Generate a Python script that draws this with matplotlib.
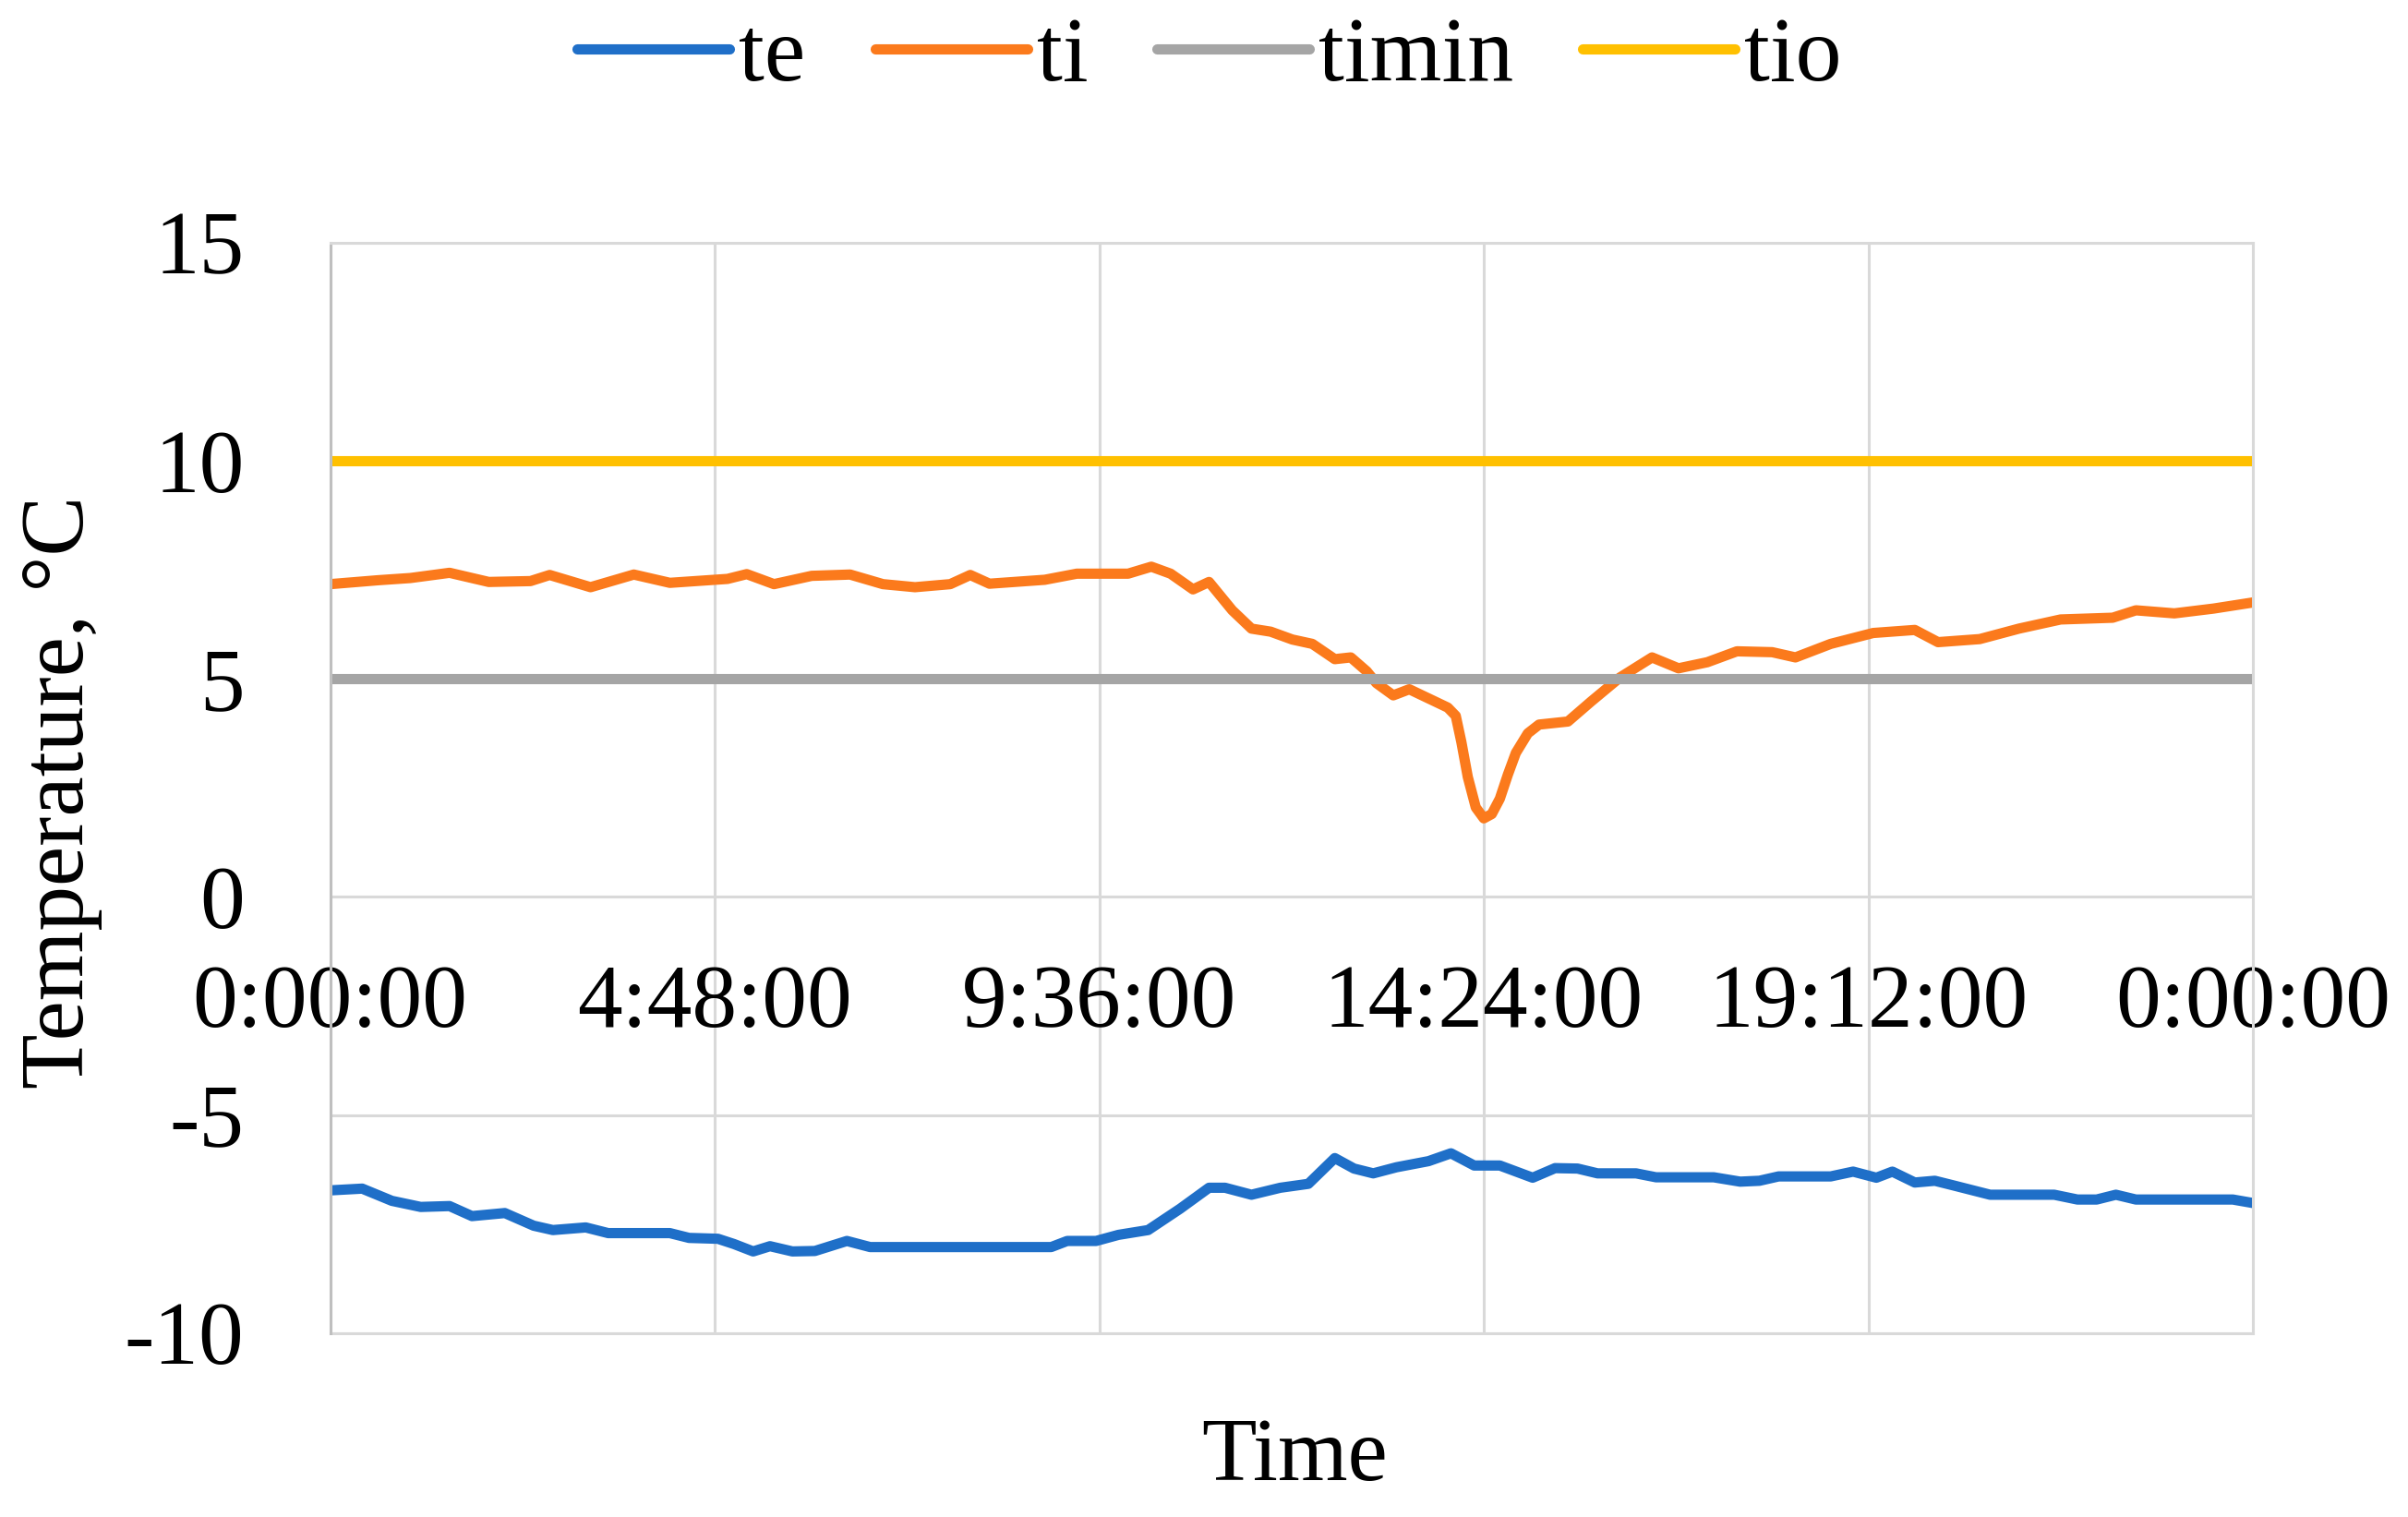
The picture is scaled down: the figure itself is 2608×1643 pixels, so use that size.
import matplotlib
matplotlib.use("Agg")
import matplotlib.pyplot as plt

plt.rcParams['font.family'] = ['Liberation Serif', 'DejaVu Serif']
plt.rcParams['axes.unicode_minus'] = False

# time in hours, temperatures in deg C
te_hours = [0, 0.4, 0.77, 1.13, 1.49, 1.77, 2.18, 2.54, 2.78, 3.19, 3.47, 4.24, 4.48, 4.84,
            5.04, 5.28, 5.49, 5.77, 6.05, 6.45, 6.74, 9.0, 9.2, 9.56, 9.84, 10.21, 10.61,
            10.97, 11.17, 11.5, 11.86, 12.21, 12.54, 12.78, 13.02, 13.31, 13.71, 13.99,
            14.28, 14.6, 15.01, 15.29, 15.57, 15.82, 16.3, 16.55, 17.27, 17.6, 17.84, 18.08,
            18.73, 19.01, 19.3, 19.5, 19.78, 20.03, 20.27, 20.72, 21.52, 21.81, 22.05, 22.29,
            22.54, 23.75, 24.0]
te = [-6.73, -6.69, -6.97, -7.11, -7.09, -7.32, -7.25, -7.54, -7.64, -7.58, -7.71, -7.71,
      -7.82, -7.84, -7.96, -8.13, -8.01, -8.13, -8.12, -7.89, -8.03, -8.03, -7.89, -7.89,
      -7.75, -7.64, -7.15, -6.67, -6.67, -6.83, -6.67, -6.58, -5.99, -6.23, -6.34, -6.20,
      -6.06, -5.88, -6.16, -6.16, -6.44, -6.22, -6.23, -6.34, -6.34, -6.43, -6.43, -6.53,
      -6.51, -6.41, -6.41, -6.30, -6.44, -6.30, -6.55, -6.51, -6.62, -6.83, -6.83, -6.94,
      -6.94, -6.83, -6.94, -6.94, -7.02]

ti_hours = [0, 0.6, 1.0, 1.49, 1.98, 2.5, 2.74, 3.25, 3.79, 4.24, 4.96, 5.2, 5.54, 6.01,
            6.49, 6.9, 7.3, 7.74, 7.99, 8.23, 8.92, 9.32, 9.96, 10.25, 10.49, 10.77, 10.97,
            11.26, 11.5, 11.74, 12.01, 12.26, 12.54, 12.74, 12.94, 13.06, 13.27, 13.47,
            13.71, 13.95, 14.05, 14.12, 14.2, 14.3, 14.4, 14.5, 14.6, 14.7, 14.8, 14.95,
            15.09, 15.45, 15.74, 16.1, 16.5, 16.83, 17.19, 17.56, 18.0, 18.29, 18.73, 19.26,
            19.78, 20.07, 20.59, 21.08, 21.6, 22.25, 22.54, 23.02, 23.51, 24.0]
ti = [7.17, 7.26, 7.31, 7.43, 7.22, 7.24, 7.38, 7.10, 7.39, 7.20, 7.29, 7.40, 7.17, 7.36,
      7.39, 7.17, 7.10, 7.17, 7.38, 7.18, 7.27, 7.41, 7.41, 7.57, 7.41, 7.05, 7.22, 6.57,
      6.15, 6.08, 5.90, 5.80, 5.45, 5.49, 5.17, 4.90, 4.62, 4.76, 4.55, 4.34, 4.15, 3.55,
      2.75, 2.05, 1.80, 1.90, 2.25, 2.80, 3.30, 3.75, 3.95, 4.02, 4.48, 5.03, 5.49, 5.24,
      5.38, 5.63, 5.61, 5.49, 5.80, 6.05, 6.12, 5.84, 5.91, 6.15, 6.36, 6.40, 6.57, 6.50,
      6.61, 6.75]

limit_hours = [0, 24]
timin = [5, 5]
tio = [10, 10]

x_ticks = [0, 4.8, 9.6, 14.4, 19.2, 24]
x_labels = ['0:00:00', '4:48:00', '9:36:00', '14:24:00', '19:12:00', '0:00:00']
y_ticks = [-10, -5, 0, 5, 10, 15]

W, H = 2608, 1643
fig = plt.figure(figsize=(W / 100, H / 100), dpi=100)
ax = fig.add_axes([357.6 / W, 1 - 1443.7 / H, (2440 - 357.6) / W, (1443.7 - 262.8) / H])

lw = 8
style = dict(lw=lw, solid_capstyle='round', solid_joinstyle='round')
l1, = ax.plot(te_hours, te, color='#1F6FC8', label='te', **style)
l2, = ax.plot(ti_hours, ti, color='#FB7A1C', label='ti', **style)
l3, = ax.plot(limit_hours, timin, color='#A5A5A5', label='timin', **style)
l4, = ax.plot(limit_hours, tio, color='#FFC000', label='tio', **style)

ax.set_xlim(0, 24)
ax.set_ylim(-10, 15)
ax.set_xticks(x_ticks)
ax.set_xticklabels(x_labels)
ax.set_yticks(y_ticks)
ax.grid(True, color='#D9D9D9', lw=2.2)
ax.set_axisbelow(True)

for s in ['top', 'right', 'left']:
    ax.spines[s].set_color('#D9D9D9')
    ax.spines[s].set_linewidth(2.2)
ax.spines['left'].set_color('#BFBFBF')
ax.spines['bottom'].set_position(('data', 0))
ax.spines['bottom'].set_visible(False)
# -10 border line
ax.axhline(-10, color='#D9D9D9', lw=2.2, clip_on=False, zorder=0.5)

ax.tick_params(axis='both', length=0, labelsize=70)
ax.tick_params(axis='x', pad=53)
ax.tick_params(axis='y', pad=67)

fig.text(67 / W, 1 - 858 / H, 'Temperature, °C', rotation=90, ha='center', va='center', fontsize=70)
fig.text(1402 / W, 1 - 1580 / H, 'Time', ha='center', va='center', fontsize=70)

fig.legend(handles=[l1, l2, l3, l4], loc='center', bbox_to_anchor=(1310 / W, 1 - 63 / H),
           ncol=4, frameon=False, fontsize=72, handlelength=1.65, handletextpad=0.1,
           columnspacing=0.75)

fig.savefig('out.png', dpi=100, facecolor='white')
